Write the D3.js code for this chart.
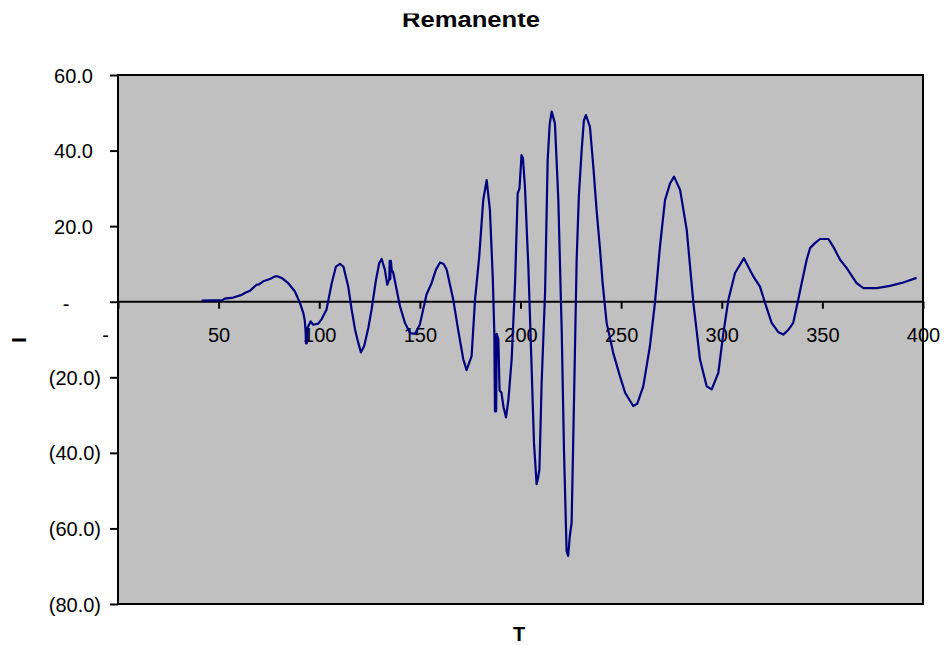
<!DOCTYPE html>
<html>
<head>
<meta charset="utf-8">
<script src="https://cdn.jsdelivr.net/npm/d3@7"></script>
<style>
  body { margin: 0; background: #fff; }
  text { font-family: Arial, "Liberation Sans", sans-serif; }
</style>
</head>
<body>
<div id="chart"></div>
<script>
// values (T, I)
var tValues = [41.6, 52, 53, 57.3, 61.5, 63, 65.6, 67, 68.9, 70, 72.2, 75.5, 78, 79.5, 81.3, 84.6, 87.9, 90.4, 92.1, 92.8,
    93.2, 93.4, 93.6, 93.8, 94.1, 95.7, 97, 99.5, 101.2, 103.6, 106.2, 108.3, 110.3, 112, 114.4, 116.1, 117.8, 119.4, 120.7, 122.3,
    124.4, 126, 128.2, 129.8, 131, 132.6, 133.8, 134.8, 135.0, 135.3, 135.6, 136.0, 136.8, 140.1, 142.6, 145.1, 147.6, 150, 153.3, 155.8,
    158, 160, 161.8, 163.3, 166.6, 169, 171.6, 173.2, 175.7, 177.4, 179.5, 181.5, 183.2, 184.8, 186.2, 187.0, 187.3, 187.6, 187.9, 188.2,
    189.0, 189.6, 190.5, 191.6, 192.8, 194, 195.6, 197.3, 198.6, 199.5, 200.5, 201.2, 202.2, 203.9, 205.5, 206.7, 208, 208.6, 209.4, 210.5,
    212.2, 213.5, 214.5, 215.5, 217.1, 218.8, 220.5, 221.6, 222.9, 223.7, 224.5, 225.4, 226.6, 227.9, 229, 230.4, 231.5, 232.5, 234.5, 236.2,
    237.8, 239.5, 240.8, 242.8, 246.1, 249.4, 252, 256, 258, 261, 264.3, 266.8, 269.3, 271.8, 274.3, 276.3, 279.3, 282.6, 285.9, 289.2,
    292.5, 295, 298.3, 300.8, 303.3, 306.6, 311, 315.7, 319, 321.5, 324.8, 328, 330.6, 333, 335.5, 338, 339.7, 342.2, 343.9, 346.3,
    348.8, 353, 355.4, 358.8, 362.1, 367, 370.4, 377, 383.6, 390.2, 396.8]
var iValues = [0.3, 0.4, 0.8, 1.1, 1.8, 2.3, 2.9, 3.6, 4.5, 4.6, 5.4, 6.0, 6.7, 6.7, 6.3, 4.9, 2.7, -0.3, -3, -5,
    -7.5, -11, -7.5, -11, -7, -5.2, -6.1, -5.8, -4.6, -2.1, 4.9, 9.3, 10.0, 9.3, 4.0, -2.1, -7.4, -10.9, -13.4, -11.8,
    -6.9, -2.1, 5.8, 10.2, 11.3, 8.5, 4.5, 6, 10.8, 6, 10.8, 8.5, 7.6, -1.2, -5.6, -8.3, -8.5, -6, 1.9, 4.9,
    8.5, 10.4, 10, 8.5, 0.5, -7.4, -15.3, -18.1, -14.4, 0.5, 12, 27, 32.2, 24.3, 6.7, -8.5, -29, -9, -29, -8.5,
    -10, -23.5, -24, -28, -30.6, -25.9, -15.3, 5, 28.7, 30, 38.8, 38, 30.5, 9.3, -17.1, -37.3, -48.3, -47, -44.4, -21.5,
    2.3, 37.5, 47, 50.3, 47.2, 27, -8.3, -39.1, -66, -67.3, -62, -58.5, -25.9, 11.1, 28, 40.2, 48, 49.4, 46.3, 35.7,
    24.3, 14, 5, -5.6, -13.6, -19.7, -24.1, -27.6, -27, -22.4, -11.8, -0.3, 14.6, 26.9, 31.3, 33.1, 29.6, 19, -0.3, -15.3,
    -22.4, -23.2, -18.8, -8.3, 0.5, 7.6, 11.5, 6.7, 4, -0.3, -5.6, -8, -8.7, -7.5, -5.6, 0.5, 4.9, 11.1, 14.2, 15.5,
    16.6, 16.6, 14.6, 11.1, 8.9, 4.9, 3.6, 3.6, 4.2, 5.1, 6.3]

var xTicks = [0, 50, 100, 150, 200, 250, 300, 350, 400]
var yTicks = [60, 40, 20, 0, -20, -40, -60, -80]

var titleText = 'Remanente', xTitle = 'T', yTitle = 'I'

var width = 945, height = 645
var margin = { left: 118, right: 22, top: 75, bottom: 41 }

var svg = d3.select('#chart')
    .append('svg')
        .attr('width', width)
        .attr('height', height)

var x = d3.scaleLinear()
    .domain([0, 400])
    .range([margin.left, width - margin.right])

var y = d3.scaleLinear()
    .domain([-80, 60])
    .range([height - margin.bottom, margin.top])

// plot area
svg.append('rect')
    .attr('x', x(0))
    .attr('y', y(60))
    .attr('width', x(400) - x(0))
    .attr('height', y(-80) - y(60))
    .attr('fill', '#c0c0c0')
    .attr('stroke', '#000')
    .attr('stroke-width', 2)

function yFormat(d){
    if (d === 0) return '-';
    if (d < 0) return '(' + d3.format('.1f')(-d) + ')';
    return d3.format('.1f')(d);
}

var yAxis = svg.append('g')
    .attr('transform', 'translate(' + x(0) + ',0)')
    .call(d3.axisLeft(y).tickValues(yTicks).tickSize(8).tickFormat(yFormat))

yAxis.select('.domain').remove()
yAxis.selectAll('line').attr('stroke', '#000').attr('stroke-width', 2)
yAxis.selectAll('text')
    .attr('fill', '#000')
    .attr('font-size', '20px')
    .attr('text-anchor', function(d){ return d === 0 ? 'middle' : 'end' })
    .attr('x', function(d){
        if (d === 0) return -52;
        if (d < 0) return -17;
        return -25;
    })
    .attr('dy', function(d){ return d === 0 ? '0.45em' : '0.35em' })

var xAxis = svg.append('g')
    .attr('transform', 'translate(0,' + y(0) + ')')
    .call(d3.axisBottom(x).tickValues(xTicks).tickSize(7).tickFormat(function(d){ return d === 0 ? '-' : d }))

xAxis.select('.domain').remove()
xAxis.selectAll('line').attr('stroke', '#000').attr('stroke-width', 2)
xAxis.selectAll('text')
    .attr('fill', '#000')
    .attr('font-size', '20px')
    .attr('y', 26)
    .attr('x', function(d){ return d === 0 ? -13 : 0 })

svg.append('line')
    .attr('x1', x(0))
    .attr('x2', x(400))
    .attr('y1', y(0))
    .attr('y2', y(0))
    .attr('stroke', '#000')
    .attr('stroke-width', 2)

// series
var points = tValues.map(function(t, i){ return [t, iValues[i]] })

var line = d3.line()
    .x(function(d){ return x(d[0]) })
    .y(function(d){ return y(d[1]) })

svg.append('path')
    .datum(points)
    .attr('d', line)
    .attr('fill', 'none')
    .attr('stroke', '#000080')
    .attr('stroke-width', 2.2)
    .attr('stroke-linejoin', 'round')

// titles (the chart title is cut at the top in the source)
svg.append('clipPath')
    .attr('id', 'title-clip')
    .append('rect')
        .attr('x', 0)
        .attr('y', 13.5)
        .attr('width', width)
        .attr('height', 30)

svg.append('text')
    .attr('clip-path', 'url(#title-clip)')
    .attr('x', 471)
    .attr('y', 27)
    .attr('text-anchor', 'middle')
    .attr('font-size', '22px')
    .attr('font-weight', 'bold')
    .attr('textLength', 138)
    .attr('lengthAdjust', 'spacingAndGlyphs')
    .text(titleText)

svg.append('text')
    .attr('x', 519)
    .attr('y', 641)
    .attr('text-anchor', 'middle')
    .attr('font-size', '20px')
    .attr('font-weight', 'bold')
    .text(xTitle)

svg.append('text')
    .attr('transform', 'translate(26,340) rotate(-90)')
    .attr('text-anchor', 'middle')
    .attr('font-size', '21px')
    .attr('font-weight', 'bold')
    .text(yTitle)
</script>
</body>
</html>
